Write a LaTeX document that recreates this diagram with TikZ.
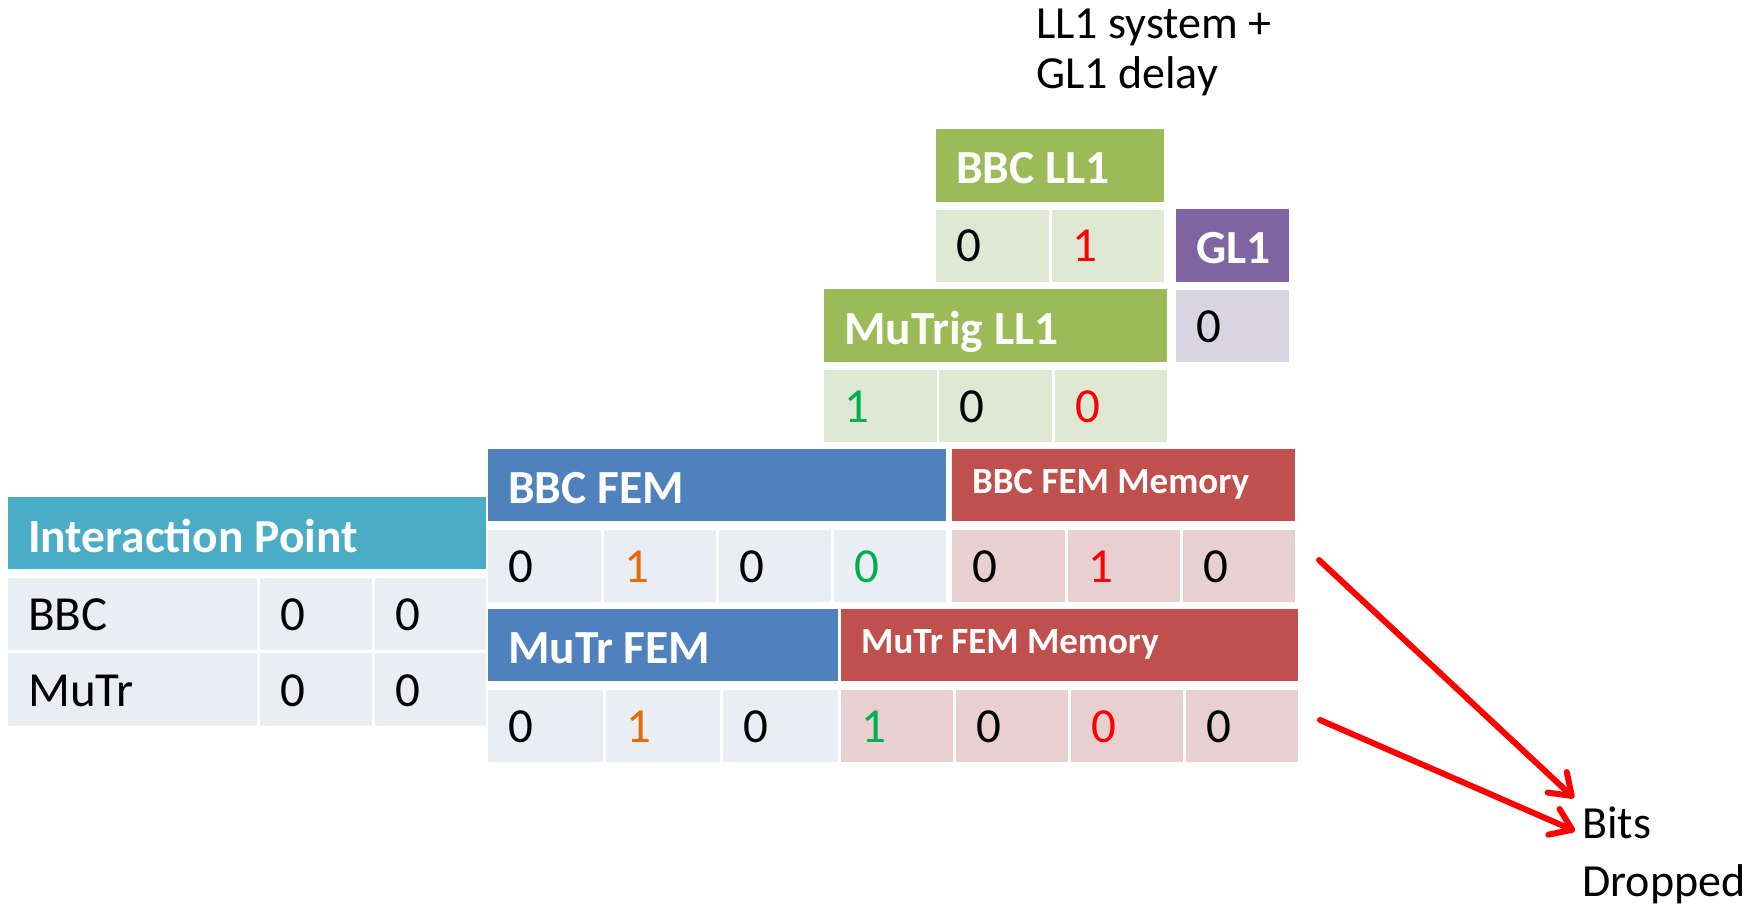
\documentclass[tikz,border=0pt]{standalone}
\usepackage{fontspec}
\setmainfont{Carlito}
\usetikzlibrary{fit,arrows.meta}
\definecolor{ipH}{HTML}{4BACC6}
\definecolor{ipC}{HTML}{E8EEF2}
\definecolor{feH}{HTML}{4F81BD}
\definecolor{feC}{HTML}{E9EDF4}
\definecolor{meH}{HTML}{C0504D}
\definecolor{meC}{HTML}{E8D0D0}
\definecolor{llH}{HTML}{9BBB59}
\definecolor{llC}{HTML}{DFE8D3}
\definecolor{glH}{HTML}{8064A2}
\definecolor{glC}{HTML}{D9D5E3}
\definecolor{dOr}{HTML}{E36C09}
\definecolor{dGr}{HTML}{00B050}
\definecolor{dRd}{HTML}{FF0000}
\newcommand\bxc[8]{%
  \node[fit={(#2,#3)(#4,#5)}, inner sep=0pt, outer sep=0pt, fill=#6] (#1) {};
  \node[#7, anchor=base west, inner sep=0pt] (#1-t) at ([shift={(20,-20)}]#1.south west) {#8};}
\begin{document}
\begin{tikzpicture}[x=1pt,y=-1pt,
  hdr/.style={font=\fontsize{47.5}{47.5}\selectfont\bfseries, text=white, yshift=-2pt},
  memt/.style={font=\fontsize{37}{37}\selectfont\bfseries, text=white, yshift=8pt},
  cellt/.style={font=\fontsize{49}{49}\selectfont, text=black},
  note/.style={font=\fontsize{46}{46}\selectfont, anchor=base west, inner sep=0pt},
  redarrow/.style={draw=dRd, line width=6pt, line cap=round, -{Straight Barb[length=20pt,width=28pt,round]}}]
\useasboundingbox (0,0) rectangle (1764,909);
% Interaction point
\bxc{iph}{8}{497}{486}{569}{ipH}{hdr,yshift=-1pt}{Interaction Point}
\bxc{ipa1}{8}{578}{257}{650}{ipC}{cellt}{BBC}
\bxc{ipa2}{260}{578}{372}{650}{ipC}{cellt}{0}
\bxc{ipa3}{375}{578}{486}{650}{ipC}{cellt}{0}
\bxc{ipb1}{8}{653}{257}{726}{ipC}{cellt}{MuTr}
\bxc{ipb2}{260}{653}{372}{726}{ipC}{cellt}{0}
\bxc{ipb3}{375}{653}{486}{726}{ipC}{cellt}{0}
% BBC FEM
\bxc{bfh}{488}{449}{946}{521}{feH}{hdr}{BBC FEM}
\bxc{bf1}{488}{530}{601}{602}{feC}{cellt}{0}
\bxc{bf2}{604}{530}{716}{602}{feC}{cellt,text=dOr}{1}
\bxc{bf3}{719}{530}{831}{602}{feC}{cellt}{0}
\bxc{bf4}{834}{530}{946}{602}{feC}{cellt,text=dGr}{0}
\bxc{bmh}{952}{449}{1295}{521}{meH}{memt}{BBC FEM Memory}
\bxc{bm1}{952}{530}{1065}{602}{meC}{cellt}{0}
\bxc{bm2}{1068}{530}{1180}{602}{meC}{cellt,text=dRd}{1}
\bxc{bm3}{1183}{530}{1295}{602}{meC}{cellt}{0}
% MuTr FEM
\bxc{mfh}{488}{609}{838}{681}{feH}{hdr}{MuTr FEM}
\bxc{mf1}{488}{690}{603}{762}{feC}{cellt}{0}
\bxc{mf2}{606}{690}{720}{762}{feC}{cellt,text=dOr}{1}
\bxc{mf3}{723}{690}{838}{762}{feC}{cellt}{0}
\bxc{mmh}{841}{609}{1298}{681}{meH}{memt}{MuTr FEM Memory}
\bxc{mm1}{841}{690}{953}{762}{meC}{cellt,text=dGr}{1}
\bxc{mm2}{956}{690}{1068}{762}{meC}{cellt}{0}
\bxc{mm3}{1071}{690}{1183}{762}{meC}{cellt,text=dRd}{0}
\bxc{mm4}{1186}{690}{1298}{762}{meC}{cellt}{0}
% BBC LL1
\bxc{blh}{936}{129}{1164}{202}{llH}{hdr}{BBC LL1}
\bxc{bl1}{936}{210}{1049}{282}{llC}{cellt}{0}
\bxc{bl2}{1052}{210}{1164}{282}{llC}{cellt,text=dRd}{1}
% GL1
\bxc{glh}{1176}{209}{1289}{282}{glH}{hdr}{GL1}
\bxc{gl1}{1176}{290}{1289}{362}{glC}{cellt}{0}
% MuTrig LL1
\bxc{mlh}{824}{289}{1167}{362}{llH}{hdr}{MuTrig LL1}
\bxc{ml1}{824}{370}{937}{442}{llC}{cellt,text=dGr}{1}
\bxc{ml2}{939}{370}{1052}{442}{llC}{cellt}{0}
\bxc{ml3}{1055}{370}{1167}{442}{llC}{cellt,text=dRd}{0}
% notes
\node[note] (sysa) at (1036,39) {LL1 system +};
\node[note] (sysb) at (1036,89) {GL1 delay};
\node[note] (bitsa) at (1582,838) {Bits};
\node[note] (bitsb) at (1582,896) {Dropped};
% arrows
\coordinate (a1s) at (1319,560);
\coordinate (a1e) at (1574,798);
\coordinate (a2s) at (1320,720);
\coordinate (a2e) at (1575,831);
\draw[redarrow] (a1s) -- (a1e);
\draw[redarrow] (a2s) -- (a2e);
\end{tikzpicture}
\end{document}
